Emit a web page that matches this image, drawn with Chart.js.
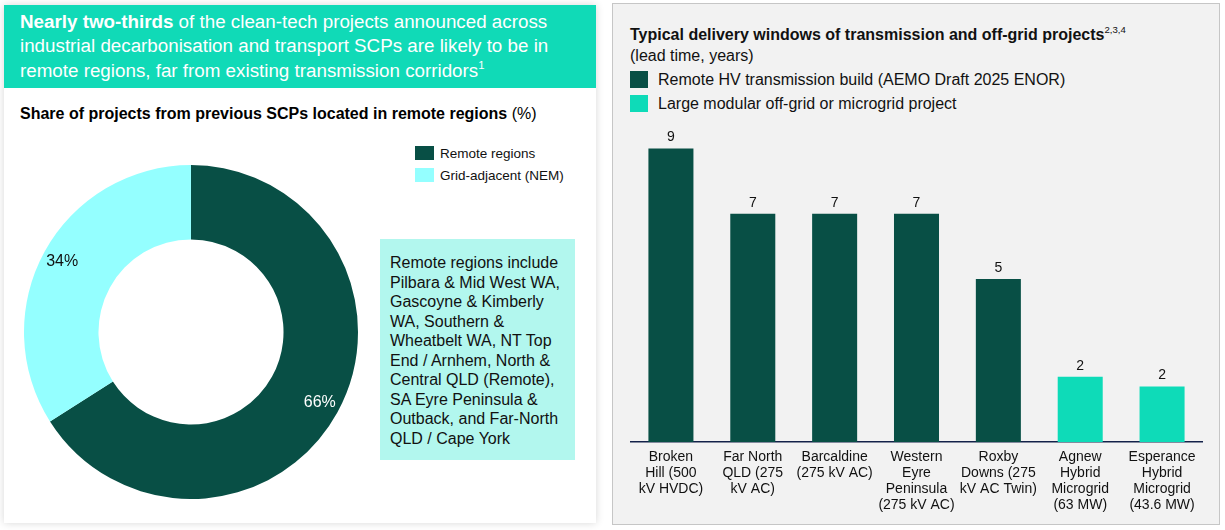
<!DOCTYPE html>
<html>
<head>
<meta charset="utf-8">
<script src="https://cdn.jsdelivr.net/npm/chart.js@4/dist/chart.umd.min.js"></script>
<style>
  body { margin: 0; width: 1225px; height: 530px; background: #fff; font-family: "Liberation Sans", Arial, sans-serif; position: relative; overflow: hidden; }
  .abs { position: absolute; }
  #leftPanel { left: 4px; top: 5px; width: 592px; height: 518px; background: #fff; box-shadow: 0 0 8px rgba(0,0,0,0.16); }
  #header { left: 4px; top: 5px; width: 592px; height: 83px; background: #10dab7; color: #fff; font-size: 18.8px; line-height: 24.3px; }
  #header div { padding: 5px 0 0 16px; white-space: nowrap; }
  sup { font-size: 0.6em; line-height: 0; vertical-align: 0.7em; }
  #subTitle { left: 20px; top: 105px; font-size: 16px; white-space: nowrap; }
  .leg { font-size: 13.5px; white-space: nowrap; color: #111; }
  .sw { display: inline-block; width: 19px; height: 14px; vertical-align: -2px; margin-right: 6px; }
  #note { left: 380px; top: 239px; width: 185px; height: 207px; background: #b2f7ee; padding: 14px 0 0 10px; font-size: 16px; line-height: 19.5px; white-space: nowrap; color: #111; }
  #rightPanel { left: 612px; top: 3px; width: 606px; height: 520px; background: #f2f2f2; border: 1px solid #c6c6c6; }
  #rTitle { left: 630px; top: 24px; font-size: 16px; line-height: 21px; white-space: nowrap; color: #111; }
  .rleg { font-size: 16px; white-space: nowrap; color: #111; }
  .rsw { display: inline-block; width: 18px; height: 17px; vertical-align: -3px; margin-right: 10px; }
</style>
</head>
<body>
<div id="leftPanel" class="abs"></div>
<div id="header" class="abs"><div><b>Nearly two-thirds</b> of the clean-tech projects announced across<br>industrial decarbonisation and transport SCPs are likely to be in<br>remote regions, far from existing transmission corridors<sup>1</sup></div></div>
<div id="subTitle" class="abs"><b>Share of projects from previous SCPs located in remote regions</b> (%)</div>
<div class="abs leg" style="left:415px;top:146px"><span class="sw" style="background:#084f45"></span>Remote regions</div>
<div class="abs leg" style="left:415px;top:168px"><span class="sw" style="background:#94ffff"></span>Grid-adjacent (NEM)</div>
<div id="note" class="abs">Remote regions include<br>Pilbara &amp; Mid West WA,<br>Gascoyne &amp; Kimberly<br>WA, Southern &amp;<br>Wheatbelt WA, NT Top<br>End / Arnhem, North &amp;<br>Central QLD (Remote),<br>SA Eyre Peninsula &amp;<br>Outback, and Far-North<br>QLD / Cape York</div>
<div class="abs" style="left:23.5px;top:164.5px;width:334px;height:334px"><canvas id="donut"></canvas></div>

<div id="rightPanel" class="abs"></div>
<div id="rTitle" class="abs"><b>Typical delivery windows of transmission and off-grid projects</b><sup>2,3,4</sup><br>(lead time, years)</div>
<div class="abs rleg" style="left:630px;top:71px"><span class="rsw" style="background:#084f45"></span>Remote HV transmission build (AEMO Draft 2025 ENOR)</div>
<div class="abs rleg" style="left:630px;top:95px"><span class="rsw" style="background:#0edbb8"></span>Large modular off-grid or microgrid project</div>
<div class="abs" style="left:630px;top:116px;width:573px;height:406px"><canvas id="bars"></canvas></div>

<script>
const shareLabels = ['Remote regions', 'Grid-adjacent (NEM)']
const shareValues = [66, 34]
const shareColors = ['#084f45', '#94ffff']

const projectNames = [
    ['Broken', 'Hill (500', 'kV HVDC)'],
    ['Far North', 'QLD (275', 'kV AC)'],
    ['Barcaldine', '(275 kV AC)'],
    ['Western', 'Eyre', 'Peninsula', '(275 kV AC)'],
    ['Roxby', 'Downs (275', 'kV AC Twin)'],
    ['Agnew', 'Hybrid', 'Microgrid', '(63 MW)'],
    ['Esperance', 'Hybrid', 'Microgrid', '(43.6 MW)']
]
const leadTimes = [9, 7, 7, 7, 5, 2, 1.7]
const projectTypes = ['hv', 'hv', 'hv', 'hv', 'hv', 'mg', 'mg']

const FONT = '"Liberation Sans", Arial, sans-serif'
Chart.defaults.font.family = FONT

// percentage labels inside the donut
const donutLabels = {
    id: 'donutLabels',
    afterDatasetsDraw(chart) {
        const ctx = chart.ctx
        chart.getDatasetMeta(0).data.forEach((arc, i) => {
            const p = arc.getProps(['x', 'y', 'startAngle', 'endAngle', 'outerRadius'], true)
            const mid = (p.startAngle + p.endAngle) / 2
            const r = p.outerRadius - 20
            ctx.save()
            ctx.font = '16px ' + FONT
            ctx.fillStyle = i === 0 ? '#ffffff' : '#111111'
            ctx.textAlign = 'center'
            ctx.textBaseline = 'middle'
            ctx.fillText(shareValues[i] + '%', p.x + Math.cos(mid) * r, p.y + Math.sin(mid) * r)
            ctx.restore()
        })
    }
}

new Chart('donut', {
    type: 'doughnut',
    data: {
        labels: shareLabels,
        datasets: [{ data: shareValues, backgroundColor: shareColors, borderWidth: 0 }]
    },
    options: {
        responsive: true,
        maintainAspectRatio: false,
        animation: false,
        cutout: '55.4%',
        plugins: { legend: { display: false }, tooltip: { enabled: false } }
    },
    plugins: [donutLabels]
})

// value labels on top of bars
const barLabels = {
    id: 'barLabels',
    afterDatasetsDraw(chart) {
        const ctx = chart.ctx
        chart.getDatasetMeta(0).data.forEach((bar, i) => {
            ctx.save()
            ctx.font = '14px ' + FONT
            ctx.fillStyle = '#111111'
            ctx.textAlign = 'center'
            ctx.textBaseline = 'bottom'
            ctx.fillText(Math.round(leadTimes[i]), bar.x, bar.y - 4)
            ctx.restore()
        })
    }
}

new Chart('bars', {
    type: 'bar',
    data: {
        labels: projectNames,
        datasets: [{
            data: leadTimes,
            backgroundColor: projectTypes.map(t => t === 'hv' ? '#084f45' : '#0edbb8'),
            categoryPercentage: 1,
            barPercentage: 0.55
        }]
    },
    options: {
        responsive: true,
        maintainAspectRatio: false,
        animation: false,
        layout: { padding: 0 },
        plugins: { legend: { display: false }, tooltip: { enabled: false } },
        scales: {
            x: {
                grid: { display: false },
                border: { display: true, color: '#14224a', width: 1.5 },
                ticks: { color: '#111', font: { size: 14, lineHeight: 1.15 }, maxRotation: 0, autoSkip: false, padding: -1 },
                afterFit: s => { s.height = 80 }
            },
            y: {
                display: false,
                min: 0,
                max: 10
            }
        }
    },
    plugins: [barLabels]
})
</script>
</body>
</html>
